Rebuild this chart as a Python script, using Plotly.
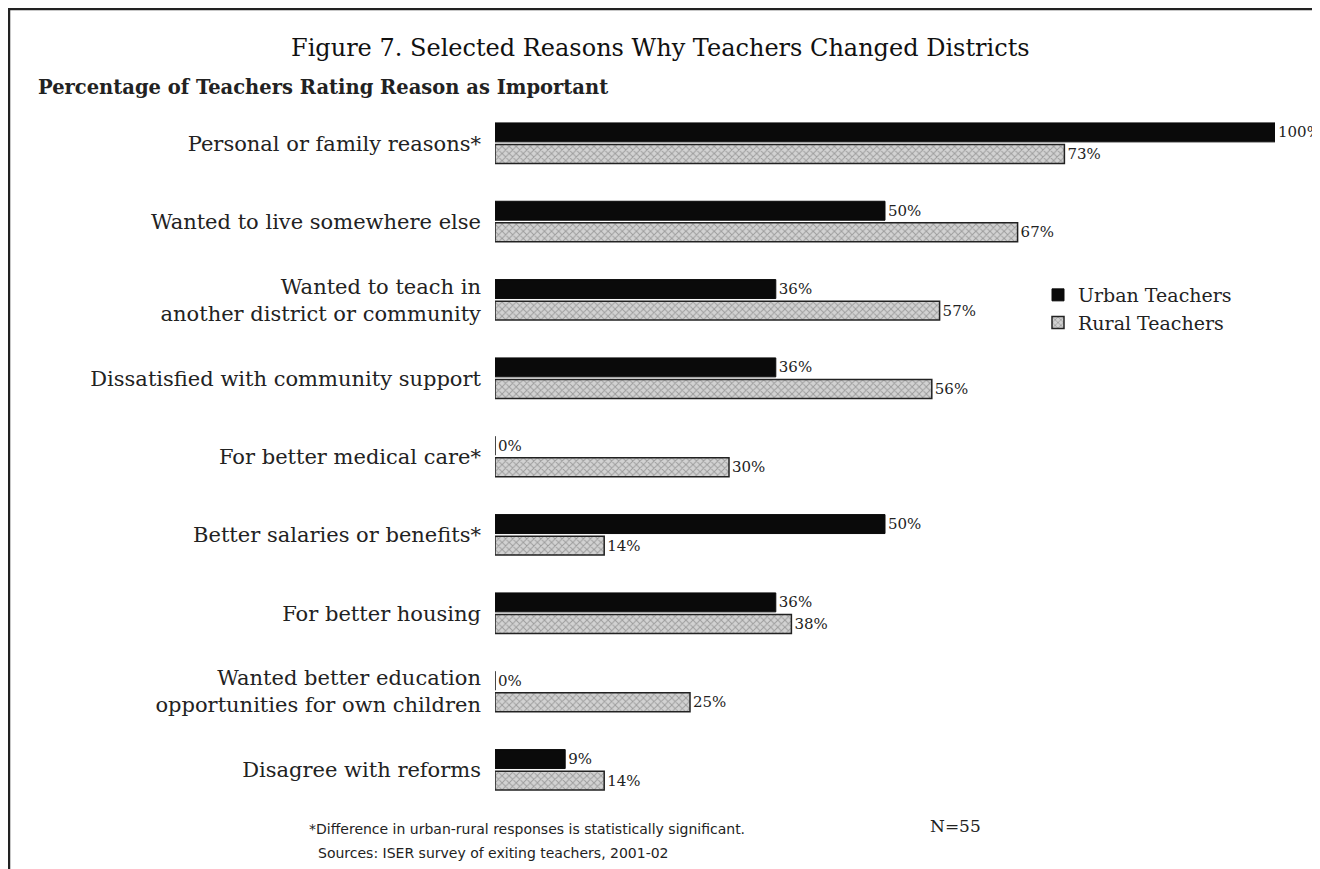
import plotly.graph_objects as go

categories = [
    "Personal or family reasons*",
    "Wanted to live somewhere else",
    "Wanted to teach in<br>another district or community",
    "Dissatisfied with community support",
    "For better medical care*",
    "Better salaries or benefits*",
    "For better housing",
    "Wanted better education<br>opportunities for own children",
    "Disagree with reforms",
]
urban = [100, 50, 36, 36, 0, 50, 36, 0, 9]
rural = [73, 67, 57, 56, 30, 14, 38, 25, 14]

SERIF = "DejaVu Serif, Liberation Serif, serif"
SANS = "DejaVu Sans, Liberation Sans, sans-serif"

fig = go.Figure()
fig.add_trace(go.Bar(
    y=categories, x=urban, orientation="h", name="Urban Teachers",
    marker=dict(color="#0a0a0a", line=dict(color="#0a0a0a", width=1)),
    text=[f"{v}%" for v in urban], textposition="outside",
    textfont=dict(family=SERIF, size=15, color="#222"),
    cliponaxis=False,
))
fig.add_trace(go.Bar(
    y=categories, x=rural, orientation="h", name="Rural Teachers",
    marker=dict(color="#d0d0d0", line=dict(color="#222222", width=1.5),
                pattern=dict(shape="x", fgcolor="#666666", bgcolor="#d2d2d2",
                             size=5, solidity=0.35)),
    text=[f"{v}%" for v in rural], textposition="outside",
    textfont=dict(family=SERIF, size=15, color="#222"),
    cliponaxis=False,
))


def px(x):
    return (x - 495) / 780


def py(y):
    return (809 - y) / 705


fig.update_layout(
    width=1312, height=861,
    paper_bgcolor="white", plot_bgcolor="white",
    barmode="group", bargap=0.45, bargroupgap=0.12,
    margin=dict(l=487, r=45, t=96, b=60),
    font=dict(family=SERIF, color="#222"),
    showlegend=True,
    legend=dict(x=px(1038), y=py(276), xanchor="left", yanchor="top",
                font=dict(family=SERIF, size=19, color="#222"),
                bgcolor="rgba(0,0,0,0)", tracegroupgap=0, itemwidth=30),
    xaxis=dict(range=[0, 100], visible=False, showgrid=False, zeroline=False),
    yaxis=dict(autorange="reversed", showgrid=False, zeroline=False, showline=False,
               ticks="", ticklabelstandoff=13,
               tickfont=dict(family=SERIF, size=21, color="#222")),
    annotations=[
        dict(text="Figure 7. Selected Reasons Why Teachers Changed Districts",
             xref="paper", yref="paper", x=px(660), y=py(48),
             xanchor="center", yanchor="middle", showarrow=False,
             font=dict(family=SERIF, size=24, color="#111")),
        dict(text="<b>Percentage of Teachers Rating Reason as Important</b>",
             xref="paper", yref="paper", x=px(36), y=py(88),
             xanchor="left", yanchor="middle", showarrow=False,
             font=dict(family=SERIF, size=19.5, color="#222")),
        dict(text="*Difference in urban-rural responses is statistically significant.",
             xref="paper", yref="paper", x=px(307), y=py(829),
             xanchor="left", yanchor="middle", showarrow=False,
             font=dict(family=SANS, size=14, color="#222")),
        dict(text="Sources: ISER survey of exiting teachers, 2001-02",
             xref="paper", yref="paper", x=px(316), y=py(853),
             xanchor="left", yanchor="middle", showarrow=False,
             font=dict(family=SANS, size=14, color="#222")),
        dict(text="N=55",
             xref="paper", yref="paper", x=px(928), y=py(826),
             xanchor="left", yanchor="middle", showarrow=False,
             font=dict(family=SERIF, size=17, color="#222")),
    ],
    shapes=[
        dict(type="line", xref="paper", yref="paper",
             x0=px(8), x1=px(1320), y0=py(9), y1=py(9),
             line=dict(color="#222", width=2.5)),
        dict(type="line", xref="paper", yref="paper",
             x0=px(9), x1=px(9), y0=py(9), y1=py(869),
             line=dict(color="#222", width=2.5)),
    ],
)

fig.write_html("out.html")
